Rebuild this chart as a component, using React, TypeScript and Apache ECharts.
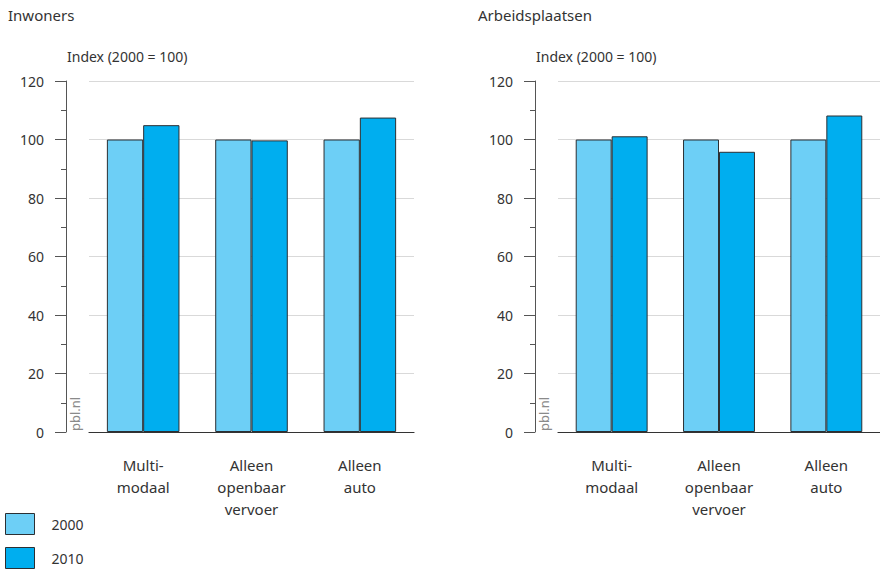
import React, { useEffect, useRef } from "react";
import * as echarts from "echarts";

const categories = ["Multi-\nmodaal", "Alleen\nopenbaar\nvervoer", "Alleen\nauto"];
const seriesNames = ["2000", "2010"];
const inwoners2000 = [100, 100, 100];
const inwoners2010 = [104.9, 99.7, 107.5];
const arbeid2000 = [100, 100, 100];
const arbeid2010 = [101.1, 95.8, 108.2];
const colors = ["#6dcff6", "#00aeef"];
const FONT = "Noto Sans";
const TXT = "#333333";

export default function App() {
  const ref = useRef<HTMLDivElement>(null);
  useEffect(() => {
    if (!ref.current) return;
    const chart = echarts.init(ref.current, null, { renderer: "svg" });
    const grids = [
      { left: 89, right: 466, top: 81, bottom: 138 },
      { left: 558, right: -3, top: 81, bottom: 138 },
    ];
    const mkX = (i: number) => ({
      type: "category",
      gridIndex: i,
      data: categories,
      axisLine: { show: true, lineStyle: { color: "#333", width: 1.2 } },
      axisTick: { show: false },
      axisLabel: { color: TXT, fontSize: 15, lineHeight: 22, margin: 22, fontFamily: FONT, interval: 0 },
    });
    const mkY = (i: number) => ({
      type: "value",
      gridIndex: i,
      min: 0,
      max: 120,
      interval: 20,
      offset: 23,
      axisLine: { show: true, lineStyle: { color: "#555", width: 1 } },
      axisTick: { show: true, length: 11, lineStyle: { color: "#555" } },
      minorTick: { show: true, splitNumber: 2, length: 5, lineStyle: { color: "#555" } },
      axisLabel: { color: TXT, fontSize: 14, margin: 22, fontFamily: FONT },
      splitLine: { show: true, lineStyle: { color: "#d9d9d9", width: 1 } },
    });
    const mkBar = (name: string, data: number[], idx: number, color: string) => ({
      type: "bar",
      name,
      xAxisIndex: idx,
      yAxisIndex: idx,
      data,
      barGap: "0%",
      barCategoryGap: "33%",
      itemStyle: { color, borderColor: "#2b2f33", borderWidth: 1 },
    });
    chart.setOption({
      animation: false,
      textStyle: { fontFamily: FONT },
      grid: grids,
      xAxis: [mkX(0), mkX(1)],
      yAxis: [mkY(0), mkY(1)],
      legend: {
        orient: "vertical",
        left: 5,
        top: 513,
        padding: 0,
        icon: "rect",
        itemWidth: 29,
        itemHeight: 21,
        itemGap: 12,
        data: seriesNames,
        textStyle: { color: TXT, fontSize: 14, fontFamily: FONT, padding: [0, 0, 0, 12] },
        itemStyle: { borderColor: "#2b2f33", borderWidth: 1 },
      },
      series: [
        mkBar(seriesNames[0], inwoners2000, 0, colors[0]),
        mkBar(seriesNames[1], inwoners2010, 0, colors[1]),
        mkBar(seriesNames[0], arbeid2000, 1, colors[0]),
        mkBar(seriesNames[1], arbeid2010, 1, colors[1]),
      ],
      graphic: [
        { type: "text", left: 8, top: 7, style: { text: "Inwoners", fontSize: 15, fill: TXT, fontFamily: FONT } },
        { type: "text", left: 478, top: 7, style: { text: "Arbeidsplaatsen", fontSize: 15, fill: TXT, fontFamily: FONT } },
        { type: "text", left: 67, top: 49, style: { text: "Index (2000 = 100)", fontSize: 14, fill: TXT, fontFamily: FONT } },
        { type: "text", left: 536, top: 49, style: { text: "Index (2000 = 100)", fontSize: 14, fill: TXT, fontFamily: FONT } },
        { type: "text", x: 81, y: 431, rotation: Math.PI / 2, style: { text: "pbl.nl", fontSize: 13, fill: "#8a8a8a", fontFamily: FONT, align: "left", verticalAlign: "bottom" } },
        { type: "text", x: 550, y: 431, rotation: Math.PI / 2, style: { text: "pbl.nl", fontSize: 13, fill: "#8a8a8a", fontFamily: FONT, align: "left", verticalAlign: "bottom" } },
      ],
    });
    return () => chart.dispose();
  }, []);
  return <div ref={ref} style={{ width: 880, height: 570, position: "absolute", left: 0, top: 0 }} />;
}
